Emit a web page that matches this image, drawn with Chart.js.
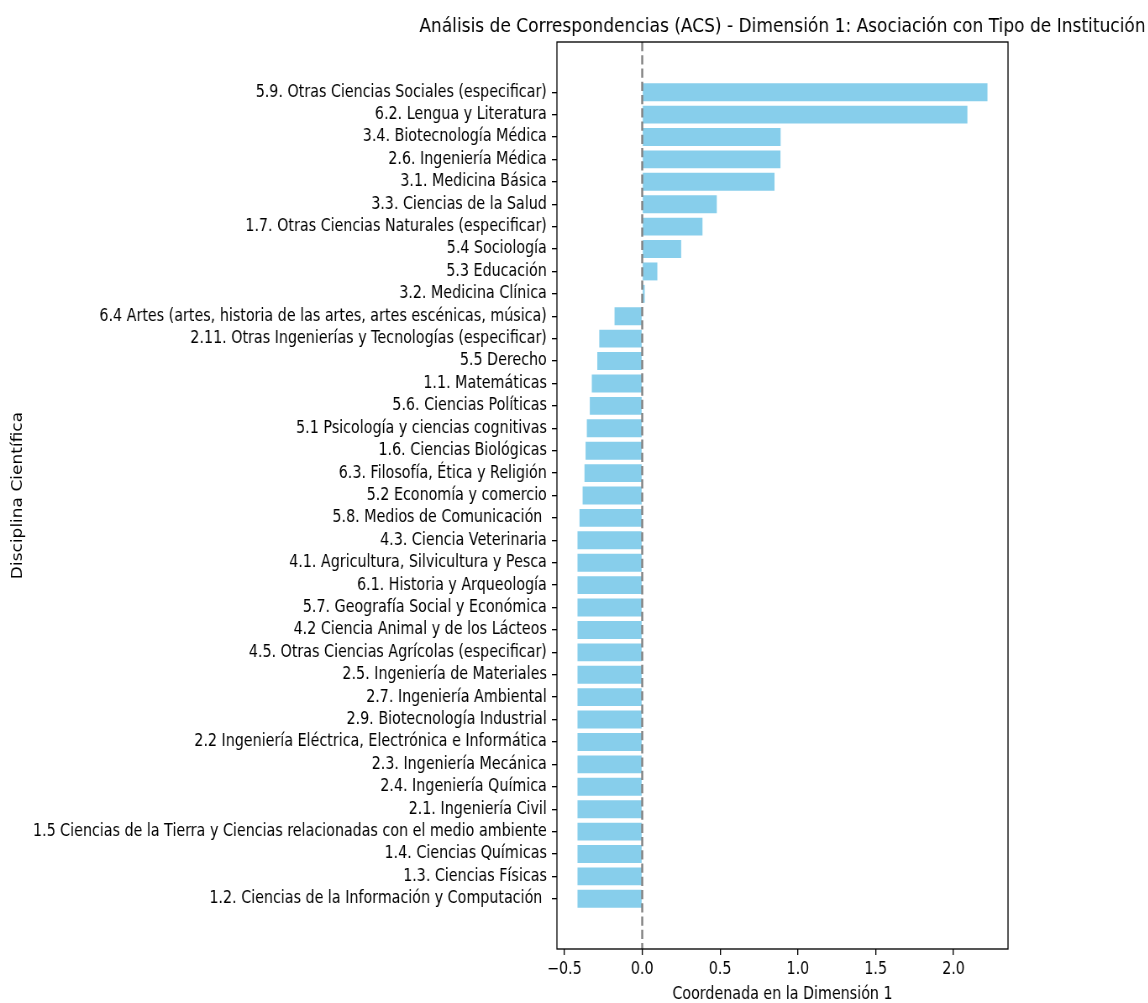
<!DOCTYPE html>
<html>
<head>
<meta charset="utf-8">
<title>ACS - Dimensión 1</title>
<script src="https://cdn.jsdelivr.net/npm/chart.js@4.4.1/dist/chart.umd.min.js"></script>
<style>
  html, body { margin: 0; padding: 0; background: #ffffff; overflow: hidden; }
  #wrap { height: 1003px; transform-origin: 0 0; }
</style>
</head>
<body>
<div id="wrap"><canvas id="acsChart"></canvas></div>
<script>
const categories = [
    '5.9. Otras Ciencias Sociales (especificar)',
    '6.2. Lengua y Literatura',
    '3.4. Biotecnología Médica',
    '2.6. Ingeniería Médica',
    '3.1. Medicina Básica',
    '3.3. Ciencias de la Salud',
    '1.7. Otras Ciencias Naturales (especificar)',
    '5.4 Sociología',
    '5.3 Educación',
    '3.2. Medicina Clínica',
    '6.4 Artes (artes, historia de las artes, artes escénicas, música)',
    '2.11. Otras Ingenierías y Tecnologías (especificar)',
    '5.5 Derecho',
    '1.1. Matemáticas',
    '5.6. Ciencias Políticas',
    '5.1 Psicología y ciencias cognitivas',
    '1.6. Ciencias Biológicas',
    '6.3. Filosofía, Ética y Religión',
    '5.2 Economía y comercio',
    '5.8. Medios de Comunicación ',
    '4.3. Ciencia Veterinaria',
    '4.1. Agricultura, Silvicultura y Pesca',
    '6.1. Historia y Arqueología',
    '5.7. Geografía Social y Económica',
    '4.2 Ciencia Animal y de los Lácteos',
    '4.5. Otras Ciencias Agrícolas (especificar)',
    '2.5. Ingeniería de Materiales',
    '2.7. Ingeniería Ambiental',
    '2.9. Biotecnología Industrial',
    '2.2 Ingeniería Eléctrica, Electrónica e Informática',
    '2.3. Ingeniería Mecánica',
    '2.4. Ingeniería Química',
    '2.1. Ingeniería Civil',
    '1.5 Ciencias de la Tierra y Ciencias relacionadas con el medio ambiente',
    '1.4. Ciencias Químicas',
    '1.3. Ciencias Físicas',
    '1.2. Ciencias de la Información y Computación '
];

const dim1 = [
    2.218, 2.089, 0.889, 0.888, 0.850, 0.479, 0.387, 0.250, 0.097, 0.016,
    -0.178, -0.276, -0.289, -0.324, -0.337, -0.356, -0.364, -0.371, -0.383, -0.403,
    -0.416, -0.416, -0.416, -0.416, -0.416, -0.416, -0.416, -0.416, -0.416, -0.416,
    -0.416, -0.416, -0.416, -0.416, -0.416, -0.416, -0.416
];

const xTicks = [-0.5, 0, 0.5, 1, 1.5, 2];
const xTickLabels = ['\u22120.5', '0.0', '0.5', '1.0', '1.5', '2.0'];

const chartTitle = 'Análisis de Correspondencias (ACS) - Dimensión 1: Asociación con Tipo de Institución';
const xTitle = 'Coordenada en la Dimensión 1';
const yTitle = 'Disciplina Científica';

// axis limits (matplotlib default 5% margins)
const xMin = -0.548;
const xMax = 2.35;
const yMin = -2.24;
const yMax = 38.24;

const FONT = 'DejaVu Sans';

// the source figure is squeezed horizontally: draw wider, then scale down
const SQUISH = 0.84;
const W = Math.round(1148 / SQUISH);
const H = 1003;
const areaLeft = Math.round(557 / SQUISH);
const areaRight = Math.round(1008 / SQUISH);

const canvas = document.getElementById('acsChart');
canvas.width = W;
canvas.height = H;
const wrap = document.getElementById('wrap');
wrap.style.width = W + 'px';
wrap.style.transform = 'scaleX(' + SQUISH + ')';

const barData = dim1.map((v, i) => ({ x: v, y: i }));

// zero line, frame and title like the original figure
const figureExtras = {
    id: 'figureExtras',
    afterDatasetsDraw(chart) {
        const { ctx, chartArea, scales } = chart;
        const x0 = scales.x.getPixelForValue(0);
        ctx.save();
        ctx.strokeStyle = '#808080';
        ctx.lineWidth = 2.4;
        ctx.setLineDash([9.25, 4]);
        ctx.beginPath();
        ctx.moveTo(x0, chartArea.top);
        ctx.lineTo(x0, chartArea.bottom);
        ctx.stroke();
        ctx.restore();
    },
    afterDraw(chart) {
        const { ctx, chartArea } = chart;
        ctx.save();
        ctx.strokeStyle = '#000000';
        ctx.lineWidth = 1.33;
        ctx.strokeRect(chartArea.left, chartArea.top,
            chartArea.right - chartArea.left, chartArea.bottom - chartArea.top);
        ctx.fillStyle = '#000000';
        ctx.font = '20.3px "' + FONT + '"';
        ctx.textAlign = 'center';
        ctx.textBaseline = 'alphabetic';
        ctx.fillText(chartTitle, (chartArea.left + chartArea.right) / 2, 32);
        ctx.restore();
    }
};

Chart.defaults.color = '#000000';

const ctx = canvas.getContext('2d');
const acsChart = new Chart(ctx, {
    type: 'bar',
    data: {
        datasets: [{
            data: barData,
            backgroundColor: '#87CEEB',
            borderWidth: 0,
            barPercentage: 0.8,
            categoryPercentage: 1.0
        }]
    },
    options: {
        indexAxis: 'y',
        responsive: false,
        animation: false,
        devicePixelRatio: 1,
        layout: {
            padding: { left: 0, right: W - areaRight, top: 42, bottom: 0 }
        },
        plugins: {
            legend: { display: false },
            tooltip: { enabled: false },
            title: { display: false }
        },
        scales: {
            x: {
                type: 'linear',
                position: 'bottom',
                min: xMin,
                max: xMax,
                bounds: 'data',
                afterBuildTicks: function(scale) {
                    scale.ticks = xTicks.map(v => ({ value: v }));
                },
                afterFit: function(scale) {
                    scale.height = H - 949;
                },
                grid: {
                    drawOnChartArea: false,
                    drawTicks: true,
                    tickLength: 6,
                    color: '#000000',
                    lineWidth: 1.33
                },
                border: { display: false },
                ticks: {
                    autoSkip: false,
                    maxRotation: 0,
                    padding: 4,
                    color: '#000000',
                    font: { family: FONT, size: 17 },
                    callback: function(value, index) {
                        return xTickLabels[index];
                    }
                },
                title: {
                    display: true,
                    text: xTitle,
                    color: '#000000',
                    font: { family: FONT, size: 17, lineHeight: 1 },
                    padding: { top: 0, bottom: 0 }
                }
            },
            y: {
                type: 'linear',
                reverse: true,
                offset: false,
                min: yMin,
                max: yMax,
                bounds: 'data',
                afterBuildTicks: function(scale) {
                    scale.ticks = categories.map((c, i) => ({ value: i }));
                },
                afterFit: function(scale) {
                    scale.width = areaLeft;
                },
                grid: {
                    offset: false,
                    drawOnChartArea: false,
                    drawTicks: true,
                    tickLength: 6,
                    color: '#000000',
                    lineWidth: 1.33
                },
                border: { display: false },
                ticks: {
                    autoSkip: false,
                    padding: 6,
                    color: '#000000',
                    font: { family: FONT, size: 17 },
                    callback: function(value) {
                        return categories[value];
                    }
                },
                title: {
                    display: true,
                    text: yTitle,
                    color: '#000000',
                    font: { family: FONT, size: 17 },
                    padding: { top: 11, bottom: 0 }
                }
            }
        }
    },
    plugins: [figureExtras]
});
</script>
</body>
</html>
